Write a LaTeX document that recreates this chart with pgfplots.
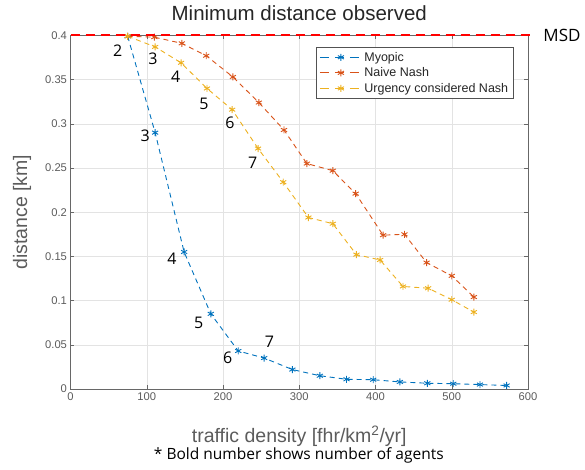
\documentclass[border=0pt]{standalone}
\usepackage{fontspec}
\setmainfont{Liberation Sans}
\newfontfamily\notefont{Open Sans}
\usepackage{pgfplots}
\pgfplotsset{compat=1.18}
\definecolor{mblue}{rgb}{0,0.447,0.741}
\definecolor{morange}{rgb}{0.85,0.325,0.098}
\definecolor{myellow}{rgb}{0.929,0.694,0.125}
\definecolor{mgray}{rgb}{0.15,0.15,0.15}
\definecolor{msdred}{rgb}{1,0,0}
\begin{document}
\begin{tikzpicture}[x=1pt,y=1pt]
\path[use as bounding box] (-70.5,-81) rectangle (514.5,389);
\begin{axis}[
  scale only axis, width=457.5pt, height=353.6pt,
  xmin=0, xmax=600, ymin=0, ymax=0.4,
  clip=false, axis on top=false,
  xtick={0,100,200,300,400,500,600},
  ytick={0,0.05,0.1,0.15,0.2,0.25,0.3,0.35,0.4},
  yticklabels={0,0.05,0.1,0.15,0.2,0.25,0.3,0.35,0.4},
  xticklabels={0,100,200,300,400,500,600},
  tick label style={font=\fontsize{11.2}{12}\selectfont, text=mgray!75},
  tick align=inside, major tick length=4pt,
  tick style={mgray!70, line width=0.5pt},
  axis line style={mgray!70, line width=0.6pt},
  grid=major, major grid style={gray!22, line width=0.5pt},
  title={Minimum distance observed},
  title style={font=\fontsize{20.5}{22}\selectfont, at={(axis description cs:0.5,1.046)}, anchor=center, text=black!85},
  xlabel={traffic density [fhr/km\textsuperscript{2}/yr]},
  xlabel style={font=\fontsize{19.5}{22}\selectfont, at={(axis description cs:0.5,-0.133)}, anchor=center, text=mgray!75},
  ylabel={distance [km]},
  ylabel style={font=\fontsize{19.5}{22}\selectfont, at={(axis description cs:-0.106,0.5)}, anchor=center, rotate=0, text=mgray!75},
  legend style={at={(axis description cs:0.537,0.968)}, anchor=north west,
    font=\fontsize{12.5}{14}\selectfont, draw=mgray!80, line width=0.6pt,
    row sep=1pt, inner xsep=3pt, inner ysep=3pt, text=mgray},
  legend cell align=left,
  legend image code/.code={
    \draw[#1, mark=none, dash pattern=on 9pt off 6pt] (0pt,0pt) -- (42pt,0pt);
    \draw[#1, only marks, solid] plot coordinates {(21pt,0pt)};
  },
]
\addplot[mblue, dashed, dash pattern=on 5pt off 4pt, line width=0.9pt, mark=asterisk, mark size=3.5pt, mark options={solid, line width=0.9pt}]
coordinates {(75,0.399) (111,0.29) (149,0.155) (184,0.085) (220,0.043) (254,0.035) (291,0.022) (327,0.015) (362,0.011) (397,0.0105) (432,0.008) (468,0.0065) (502,0.006) (537,0.005) (572,0.004)};
\addlegendentry{Myopic}
\addplot[morange, dashed, dash pattern=on 5pt off 4pt, line width=0.9pt, mark=asterisk, mark size=3.5pt, mark options={solid, line width=0.9pt}]
coordinates {(75,0.399) (110,0.398) (146,0.391) (178,0.377) (213,0.353) (247,0.324) (280,0.293) (310,0.255) (344,0.247) (374,0.221) (410,0.174) (438,0.175) (467,0.143) (500,0.128) (529,0.104)};
\addlegendentry{Naive Nash}
\addplot[myellow, dashed, dash pattern=on 5pt off 4pt, line width=0.9pt, mark=asterisk, mark size=3.5pt, mark options={solid, line width=0.9pt}]
coordinates {(75,0.399) (111,0.387) (145,0.369) (179,0.340) (212,0.316) (246,0.272) (279,0.234) (312,0.194) (344,0.187) (375,0.152) (406,0.146) (436,0.116) (469,0.114) (500,0.101) (529,0.087)};
\addlegendentry{Urgency considered Nash}
\coordinate (msdA) at (axis cs:0,0.4);
\coordinate (msdB) at (axis cs:606,0.4);
\node[anchor=west, inner sep=0pt, font=\notefont\fontsize{17}{18}\selectfont] at (axis cs:620,0.4) {MSD};
% agent number annotations
\begin{scope}[every node/.style={font=\notefont\fontsize{16}{18}\selectfont, inner sep=0pt}]
\node at (axis cs:62,0.383) {2};
\node at (axis cs:108,0.373) {3};
\node at (axis cs:138,0.353) {4};
\node at (axis cs:175,0.323) {5};
\node at (axis cs:209,0.301) {6};
\node at (axis cs:239,0.256) {7};
\node at (axis cs:98,0.287) {3};
\node at (axis cs:133,0.147) {4};
\node at (axis cs:168,0.075) {5};
\node at (axis cs:206,0.035) {6};
\node at (axis cs:261,0.053) {7};
\end{scope}
\node[font=\notefont\fontsize{15.5}{17}\selectfont] at (axis description cs:0.499,-0.187) {* Bold number shows number of agents};
\end{axis}
\draw[msdred, line width=2pt, dash pattern=on 9pt off 6pt] (msdA) -- (msdB);
\end{tikzpicture}
\end{document}
